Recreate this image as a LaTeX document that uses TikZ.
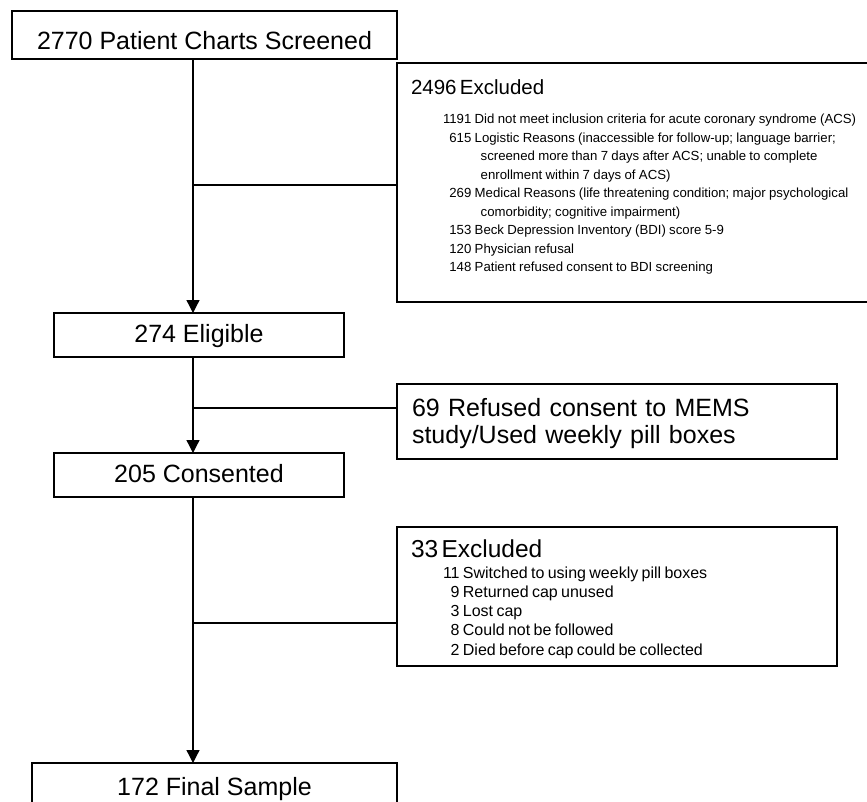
\documentclass[tikz,border=0pt]{standalone}
\usepackage{fontspec}
\setmainfont{Liberation Sans}
\usetikzlibrary{arrows.meta}

\begin{document}
\begin{tikzpicture}[x = 1pt, y = -1pt]
\tikzstyle{BoxStyle}=[shape = rectangle,
                      draw,
                      line width = 1.3pt,
                      inner xsep = 0pt,
                      inner ysep = 0pt,
                      outer sep = 0pt]
\tikzstyle{TitleStyle}=[BoxStyle, anchor = base, font = \fontsize{25}{27}\selectfont]
\tikzstyle{ListStyle}=[BoxStyle, anchor = base west, inner xsep = 14pt]
\tikzstyle{EdgeStyle}=[line width = 1.3pt]
\tikzstyle{ArrowStyle}=[EdgeStyle, -{Triangle[width = 13pt, length = 13pt]}]
\useasboundingbox (0,0) rectangle (867,802);
\clip (0,0) rectangle (867,802);
\node[TitleStyle, minimum width = 385pt, text height = 39pt, text depth = 9pt] (screen) at (204.5,50) {2770 Patient Charts Screened};
\node[ListStyle, text width = 455pt, text height = 32pt, text depth = 207pt] (excl1) at (397,95)
  {\fontsize{13.2}{18.5}\selectfont
   \begin{tabular}[t]{@{\hspace{32pt}}r@{\ }l@{}}
   \multicolumn{2}{@{}l@{}}{\fontsize{20.5}{22}\selectfont 2496 Excluded}\\[10.5pt]
   1191 & Did not meet inclusion criteria for acute coronary syndrome (ACS)\\
   615 & Logistic Reasons (inaccessible for follow-up; language barrier;\\
       & \hspace{6pt}screened more than 7 days after ACS; unable to complete\\
       & \hspace{6pt}enrollment within 7 days of ACS)\\
   269 & Medical Reasons (life threatening condition; major psychological\\
       & \hspace{6pt}comorbidity; cognitive impairment)\\
   153 & Beck Depression Inventory (BDI) score 5-9\\
   120 & Physician refusal\\
   148 & Patient refused consent to BDI screening
   \end{tabular}};
\node[TitleStyle, minimum width = 290pt, text height = 29pt, text depth = 15pt] (elig) at (199,342) {274 Eligible};
\node[ListStyle, inner xsep = 15pt, text width = 410pt, text height = 32pt, text depth = 43pt,
      font = \fontsize{25}{27}\selectfont] (refused) at (397,416)
  {69 Refused consent to MEMS\\study/Used weekly pill boxes};
\node[TitleStyle, minimum width = 290pt, text height = 29pt, text depth = 15pt] (consent) at (199,482) {205 Consented};
\node[ListStyle, text width = 412pt, text height = 30pt, text depth = 109pt] (excl2) at (397,557)
  {\fontsize{16}{19.25}\selectfont
   \begin{tabular}[t]{@{\hspace{32pt}}r@{\ }l@{}}
   \multicolumn{2}{@{}l@{}}{\fontsize{24.5}{26}\selectfont 33 Excluded}\\[1.75pt]
   11 & Switched to using weekly pill boxes\\
   9 & Returned cap unused\\
   3 & Lost cap\\
   8 & Could not be followed\\
   2 & Died before cap could be collected
   \end{tabular}};
\node[TitleStyle, minimum width = 365pt, text height = 32pt, text depth = 20pt] (final) at (214.5,795) {172 Final Sample};
\coordinate (b1) at (193,185);
\coordinate (b2) at (193,408);
\coordinate (b3) at (193,623);
\draw[ArrowStyle] (screen.south -| b1) -- (elig.north -| b1);
\draw[EdgeStyle] (b1) -- (b1 -| excl1.west);
\draw[ArrowStyle] (elig.south -| b2) -- (consent.north -| b2);
\draw[EdgeStyle] (b2) -- (b2 -| refused.west);
\draw[ArrowStyle] (consent.south -| b3) -- (final.north -| b3);
\draw[EdgeStyle] (b3) -- (b3 -| excl2.west);
\end{tikzpicture}
\end{document}
